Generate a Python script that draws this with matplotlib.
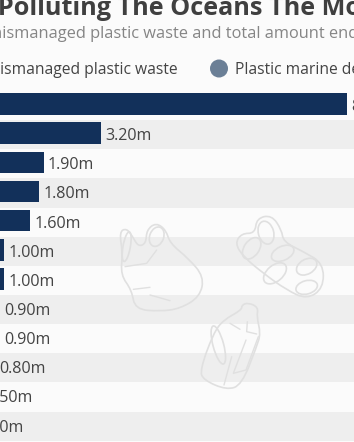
import numpy as np
import matplotlib
matplotlib.use('Agg')
from matplotlib import pyplot as plt
from matplotlib.patches import Ellipse, PathPatch, Circle
from matplotlib.path import Path

plt.rcParams['font.family'] = ['Open Sans', 'DejaVu Sans']

values = [8.80, 3.20, 1.90, 1.80, 1.60, 1.00, 1.00, 0.90, 0.90, 0.80, 0.50, 0.30]
labels = ['8.80m', '3.20m', '1.90m', '1.80m', '1.60m', '1.00m', '1.00m',
          '0.90m', '0.90m', '0.80m', '0.50m', '0.30m']

title = 'The Countries Polluting The Oceans The Most'
subtitle = 'Annual mismanaged plastic waste and total amount ending up in the ocean'
legend_a = 'Mismanaged plastic waste'
legend_b = 'Plastic marine debris'

W, H = 354, 442
BG = '#fbfbfb'
BAND = '#eeeeee'
NAVY = '#12305a'
GREY = '#6b7f96'
TEXT = '#444444'
ICON = '#e0e0e0'

fig = plt.figure(figsize=(W / 100, H / 100), dpi=100, facecolor=BG)

# overlay in pixel coords, y going down
px = fig.add_axes([0, 0, 1, 1], zorder=3)
px.set_xlim(0, W)
px.set_ylim(H, 0)
px.axis('off')

ax = fig.add_axes([0, 1.3 / H, 1, 349.7 / H], zorder=1)
ax.set_facecolor(BG)
ax.set_xlim(0.909, 0.909 + W / 44)
ax.set_ylim(11.5, -0.5)
ax.axis('off')

y = np.arange(len(values))
for i in y:
    if i % 2 == 1:
        ax.axhspan(i - 0.5, i + 0.5, color=BAND, lw=0, zorder=0)
ax.barh(y - 0.05, values, height=0.74, color=NAVY, zorder=2)
for i, (v, s) in enumerate(zip(values, labels)):
    ax.annotate(s, (v, i + 0.05), xytext=(4.2 * 0.72, 0), textcoords='offset points',
                ha='left', va='center', fontsize=11.6, color=TEXT,
                annotation_clip=False, zorder=4)

# header
px.text(-184, 15, title, fontsize=18.2, fontweight='bold', color='#3f3f3f', va='baseline', ha='left')
px.text(-71, 38.5, subtitle, fontsize=11.8, color='#858585', va='baseline', ha='left')
px.text(-13.5, 74.5, legend_a, fontsize=11.25, color=TEXT, va='baseline', ha='left')
px.text(235, 74.5, legend_b, fontsize=11.25, color=TEXT, va='baseline', ha='left')
px.add_patch(Circle((219, 68.5), 9, color=GREY, lw=0))


def blob(pts):
    # closed smooth outline from zoomed-crop points
    pts = [(a / 3, 210 + b / 3) for a, b in pts]
    mids = [((pts[i][0] + pts[(i + 1) % len(pts)][0]) / 2,
             (pts[i][1] + pts[(i + 1) % len(pts)][1]) / 2) for i in range(len(pts))]
    verts = [mids[-1]]
    codes = [Path.MOVETO]
    for p, m in zip(pts, mids):
        verts += [p, m]
        codes += [Path.CURVE3, Path.CURVE3]
    px.add_patch(PathPatch(Path(verts, codes), fc='none', ec=ICON, lw=1.2))


def stroke(pts):
    pts = [(a / 3, 210 + b / 3) for a, b in pts]
    px.plot(*zip(*pts), color=ICON, lw=1.0, solid_capstyle='round')


def ring(cx, cy, w, h, ang):
    px.add_patch(Ellipse((cx / 3, 210 + cy / 3), w / 3, h / 3, angle=ang, fc='none', ec=ICON, lw=1.2))


# bag
blob([(358, 65), (380, 55), (398, 80), (415, 110), (438, 100), (440, 60), (468, 38), (498, 60),
      (510, 100), (565, 145), (612, 200), (600, 260), (540, 296), (480, 304), (405, 298),
      (395, 240), (362, 195), (368, 130)])
ring(470, 80, 42, 60, 20)
ring(380, 110, 22, 90, 10)
stroke([(400, 238), (450, 232)])
stroke([(450, 255), (510, 272)])
stroke([(375, 170), (440, 160), (470, 120)])

# six-pack rings
blob([(770, 25), (815, 15), (845, 60), (850, 95), (910, 125), (970, 160), (970, 235), (920, 268),
      (860, 240), (790, 190), (730, 140), (705, 100), (725, 70), (765, 70)])
ring(798, 68, 46, 70, -15)
ring(755, 115, 45, 72, 35)
ring(848, 130, 42, 72, 65)
ring(825, 190, 48, 80, 50)
ring(920, 170, 44, 66, 60)
ring(920, 232, 40, 66, 75)

# bottle
blob([(725, 285), (745, 278), (775, 292), (770, 320), (782, 370), (770, 410), (725, 525),
      (680, 540), (610, 510), (600, 480), (640, 370), (670, 330), (725, 300)])
ring(655, 405, 32, 118, -15)
stroke([(690, 340), (720, 358)])
stroke([(742, 335), (740, 365), (770, 372)])
stroke([(738, 390), (700, 490), (738, 480), (775, 380)])
stroke([(695, 440), (672, 525)])

fig.savefig('out.png', dpi=100, facecolor=BG)
